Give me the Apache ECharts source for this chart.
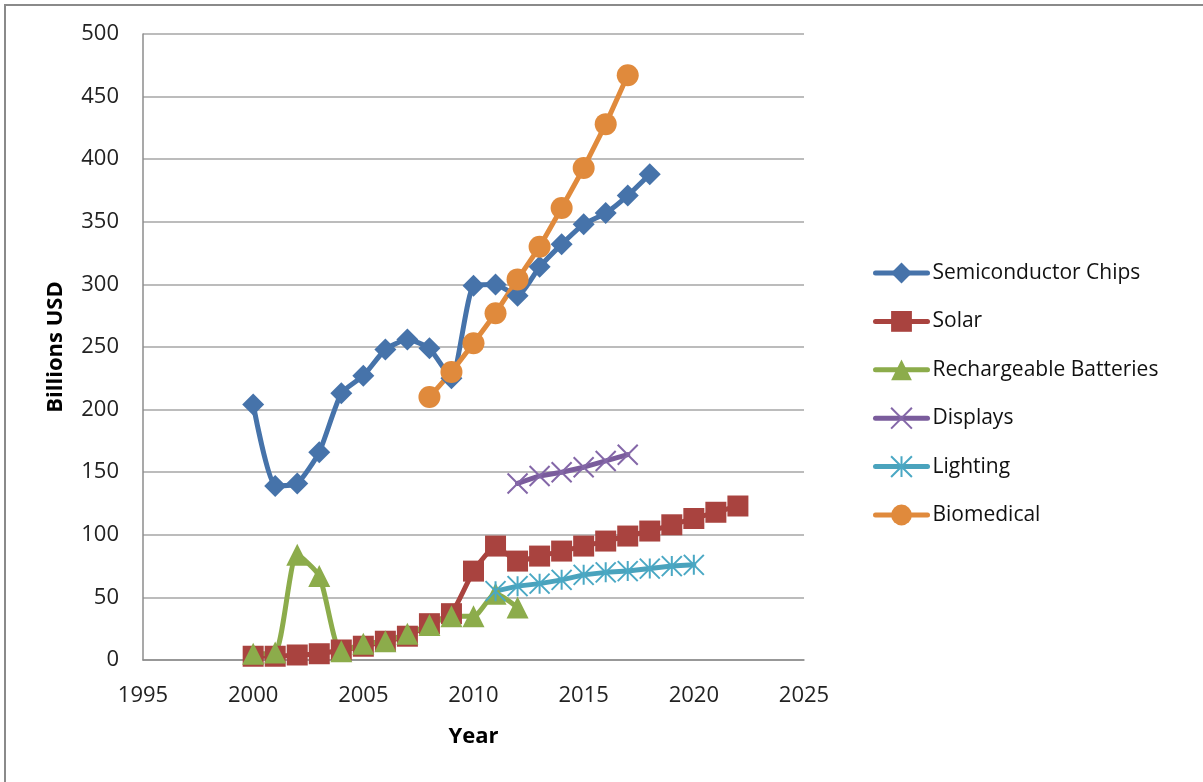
<!DOCTYPE html>
<html>
<head>
<meta charset="utf-8">
<script src="https://cdn.jsdelivr.net/npm/echarts@6/dist/echarts.min.js"></script>
<style>
  html, body { margin: 0; padding: 0; background: #ffffff; }
  #chart { width: 1203px; height: 782px; }
</style>
</head>
<body>
<div id="chart"></div>
<script>
// Market size by technology, billions of USD
const xTicks = [1995, 2000, 2005, 2010, 2015, 2020, 2025];
const yTicks = [0, 50, 100, 150, 200, 250, 300, 350, 400, 450, 500];

const semiYears = [2000, 2001, 2002, 2003, 2004, 2005, 2006, 2007, 2008, 2009, 2010, 2011, 2012, 2013, 2014, 2015, 2016, 2017, 2018];
const semiValues = [204, 139, 141, 166, 213, 227, 248, 256, 249, 225, 299, 300, 291, 314, 332, 348, 357, 371, 388];

const solarYears = [2000, 2001, 2002, 2003, 2004, 2005, 2006, 2007, 2008, 2009, 2010, 2011, 2012, 2013, 2014, 2015, 2016, 2017, 2018, 2019, 2020, 2021, 2022];
const solarValues = [3, 3, 4, 5, 8, 11, 15, 19, 29, 37, 71, 91, 79, 83, 87, 91, 95, 99, 103, 108, 113, 118, 123];

const batteryYears = [2000, 2001, 2002, 2003, 2004, 2005, 2006, 2007, 2008, 2009, 2010, 2011, 2012];
const batteryValues = [5, 6, 84, 67, 7, 13, 15, 21, 28, 35, 35, 53, 42];

const displayYears = [2012, 2013, 2014, 2015, 2016, 2017];
const displayValues = [141, 147, 150, 154, 159, 164];

const lightingYears = [2011, 2012, 2013, 2014, 2015, 2016, 2017, 2018, 2019, 2020];
const lightingValues = [55, 59, 61, 64, 68, 70, 71, 73, 75, 76];

const bioYears = [2008, 2009, 2010, 2011, 2012, 2013, 2014, 2015, 2016, 2017];
const bioValues = [210, 230, 253, 277, 304, 330, 361, 393, 428, 467];

const pairs = (xs, ys) => xs.map((x, i) => [x, ys[i]]);

const FONT = 'Open Sans';
const XMARK = 'path://M0,0L10,10M10,0L0,10';
const STAR = 'path://M0,0L10,10M10,0L0,10M5,0L5,10';

function lineSeries(name, data, color, symbol, opts) {
  const o = Object.assign({
    smooth: false,
    symbolSize: 21,
    lineWidth: 5,
    markerStyle: { color: color }
  }, opts || {});
  return {
    name: name,
    type: 'line',
    data: data,
    smooth: o.smooth,
    symbol: symbol,
    symbolSize: o.symbolSize,
    showAllSymbol: true,
    lineStyle: { color: color, width: o.lineWidth, cap: 'round', join: 'round' },
    itemStyle: o.markerStyle,
    emphasis: { disabled: true },
    animation: false
  };
}

const chart = echarts.init(document.getElementById('chart'), null, { renderer: 'canvas' });

chart.setOption({
  backgroundColor: '#ffffff',
  animation: false,
  graphic: [{
    type: 'rect',
    shape: { x: 5, y: 5, width: 1400, height: 1000 },
    style: { fill: 'none', stroke: '#8a8a8a', lineWidth: 2 },
    silent: true,
    z: 0
  }],
  grid: { left: 143, right: 399, top: 34, bottom: 122, containLabel: false },
  xAxis: {
    type: 'value',
    min: xTicks[0],
    max: xTicks[xTicks.length - 1],
    interval: 5,
    name: 'Year',
    nameLocation: 'middle',
    nameGap: 66,
    nameTextStyle: { fontFamily: FONT, fontSize: 22, fontWeight: 'bold', color: '#000' },
    axisLine: { show: true, lineStyle: { color: '#8c8c8c', width: 1.5 } },
    axisTick: { show: false },
    splitLine: { show: false },
    axisLabel: { fontFamily: FONT, fontSize: 22, color: '#222', margin: 25, formatter: v => String(v) }
  },
  yAxis: {
    type: 'value',
    min: yTicks[0],
    max: yTicks[yTicks.length - 1],
    interval: 50,
    name: 'Billions USD',
    nameLocation: 'middle',
    nameGap: 76,
    nameRotate: 90,
    nameTextStyle: { fontFamily: FONT, fontSize: 22, fontWeight: 'bold', color: '#000' },
    axisLine: { show: true, lineStyle: { color: '#8c8c8c', width: 1.5 } },
    axisTick: { show: false },
    splitLine: { show: true, lineStyle: { color: '#a6a6a6', width: 1.5 } },
    axisLabel: { fontFamily: FONT, fontSize: 22, color: '#222', margin: 24 }
  },
  legend: {
    orient: 'vertical',
    left: 873,
    top: 260,
    padding: 0,
    itemWidth: 52,
    itemHeight: 26,
    itemGap: 22.4,
    lineStyle: { width: 5 },
    textStyle: { fontFamily: FONT, fontSize: 21, lineHeight: 26, color: '#111' },
    data: ['Semiconductor Chips', 'Solar', 'Rechargeable Batteries', 'Displays', 'Lighting', 'Biomedical']
  },
  series: [
    lineSeries('Semiconductor Chips', pairs(semiYears, semiValues), '#4673aa', 'diamond', { smooth: 0.18, symbolSize: 22 }),
    lineSeries('Solar', pairs(solarYears, solarValues), '#a9433f', 'rect', { smooth: 0.15, symbolSize: 21 }),
    lineSeries('Rechargeable Batteries', pairs(batteryYears, batteryValues), '#8cac4b', 'triangle', { smooth: 0.22, symbolSize: 22 }),
    lineSeries('Displays', pairs(displayYears, displayValues), '#7a5c9c', XMARK, {
      symbolSize: 20,
      markerStyle: { color: 'none', borderColor: '#8467a8', borderWidth: 2 }
    }),
    lineSeries('Lighting', pairs(lightingYears, lightingValues), '#4aa3bd', STAR, {
      symbolSize: 20,
      markerStyle: { color: 'none', borderColor: '#4aa8c4', borderWidth: 2 }
    }),
    lineSeries('Biomedical', pairs(bioYears, bioValues), '#e08a3c', 'circle', { symbolSize: 22 })
  ]
});
</script>
</body>
</html>
